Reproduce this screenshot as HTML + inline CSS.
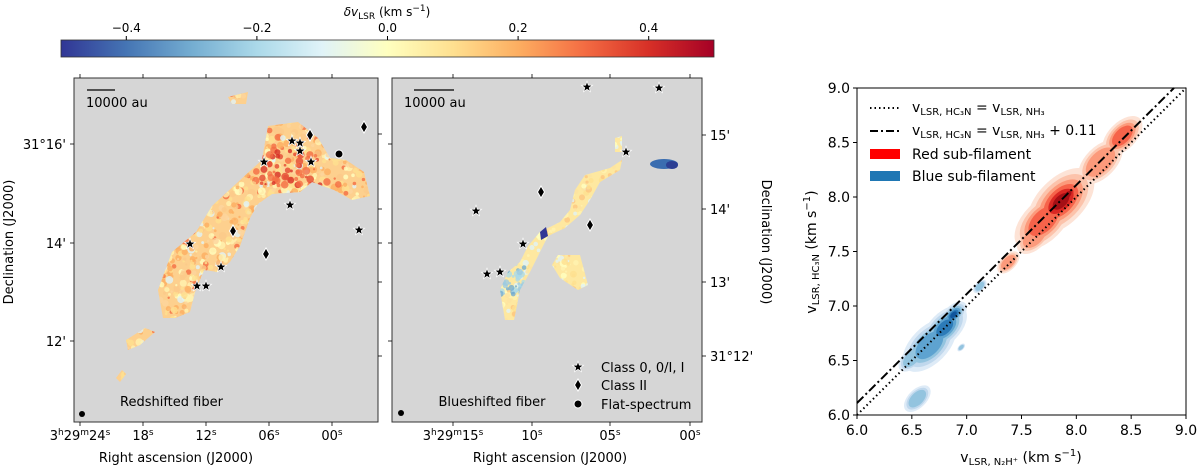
<!DOCTYPE html>
<html><head><meta charset="utf-8">
<style>
body{margin:0;background:#fff;font-family:"DejaVu Sans","Liberation Sans",sans-serif;}
svg{display:block}
text{font-family:"DejaVu Sans","Liberation Sans",sans-serif;fill:#000}
</style></head><body>
<svg id="fig" width="1200" height="467" viewBox="0 0 1200 467" xmlns="http://www.w3.org/2000/svg">
<defs>
<linearGradient id="cmap" x1="0" x2="1" y1="0" y2="0">
<stop offset="0" stop-color="#313695"/><stop offset="0.1" stop-color="#4575b4"/><stop offset="0.2" stop-color="#74add1"/><stop offset="0.3" stop-color="#abd9e9"/><stop offset="0.4" stop-color="#e0f3f8"/><stop offset="0.5" stop-color="#ffffbf"/><stop offset="0.6" stop-color="#fee090"/><stop offset="0.7" stop-color="#fdae61"/><stop offset="0.8" stop-color="#f46d43"/><stop offset="0.9" stop-color="#d73027"/><stop offset="1" stop-color="#a50026"/>
</linearGradient>
<clipPath id="clipL"><polygon points="163,318 158,290 172,252 196,232 212,206 238,182 262,160 268,126 298,122 318,138 330,158 346,160 364,172 370,196 352,200 334,190 312,182 300,192 272,194 258,204 250,218 240,246 230,262 218,272 204,270 195,292 190,312 175,318"/>
<polygon points="116,378 122,370 126,374 120,382"/><polygon points="126,340 145,328 155,332 140,345 128,350"/><polygon points="228,97 248,92 246,104 232,104"/></clipPath>
<clipPath id="clipM"><polygon points="505,320 500,290 508,272 520,262 528,246 540,232 560,222 570,210 575,190 585,175 610,168 622,160 620,170 600,182 590,200 580,215 565,228 548,236 538,256 530,272 520,290 514,320"/>
<polygon points="558,255 580,255 588,285 578,290 560,278 552,265"/><polygon points="615,138 622,136 622,152 615,152"/></clipPath>
</defs>

<g>
<rect x="61" y="40" width="653" height="17" fill="url(#cmap)" stroke="#333" stroke-width="0.8"/>
<text x="387" y="16" text-anchor="middle" font-size="12"><tspan font-style="italic">δv</tspan><tspan font-size="9" dy="3">LSR</tspan><tspan dy="-3"> (km s</tspan><tspan font-size="9" dy="-5">−1</tspan><tspan dy="5">)</tspan></text>
<g id="cbticks" font-size="12"></g>
</g>

<g>
<rect x="74" y="78" width="304" height="344" fill="#d6d6d6" stroke="#333" stroke-width="1"/>
<g id="blobL" clip-path="url(#clipL)"></g>
<line x1="87" y1="90" x2="115" y2="90" stroke="#000" stroke-width="1.2"/>
<text x="86" y="107" font-size="13">10000 au</text>
<text x="120" y="406" font-size="13">Redshifted fiber</text>
<circle cx="82" cy="414" r="3" fill="#000"/>
<g id="ticksL" font-size="13"></g>
<text x="176" y="462" text-anchor="middle" font-size="13">Right ascension (J2000)</text>
<text transform="translate(13,242) rotate(-90)" text-anchor="middle" font-size="13">Declination (J2000)</text>
<g id="markL"></g>
</g>

<g>
<rect x="392" y="78" width="310" height="344" fill="#d6d6d6" stroke="#333" stroke-width="1"/>
<g id="blobM" clip-path="url(#clipM)"></g>
<ellipse cx="664" cy="164" rx="14" ry="5" fill="#3a6db0"/><ellipse cx="672" cy="165" rx="6" ry="4" fill="#2c3f93"/>
<polygon points="540,232 546,227 548,236 541,240" fill="#313695"/>
<line x1="414" y1="90" x2="454" y2="90" stroke="#000" stroke-width="1.2"/>
<text x="404" y="107" font-size="13">10000 au</text>
<text x="492" y="406" text-anchor="middle" font-size="13">Blueshifted fiber</text>
<circle cx="401" cy="413" r="3" fill="#000"/>
<g id="ticksM" font-size="13"></g>
<text x="550" y="462" text-anchor="middle" font-size="13">Right ascension (J2000)</text>
<text transform="translate(762,242) rotate(90)" text-anchor="middle" font-size="13">Declination (J2000)</text>
<g id="markM"></g>
<g font-size="13">
<text x="601" y="372">Class 0, 0/I, I</text>
<text x="601" y="390">Class II</text>
<text x="601" y="409">Flat-spectrum</text>
</g>
</g>

<g>
<rect x="857" y="88" width="329" height="327" fill="#fff"/>
<g id="kde"></g>
<g id="lines"></g>
<rect x="857" y="88" width="329" height="327" fill="none" stroke="#000" stroke-width="1"/>
<g id="axesR" font-size="14"></g>
<text x="1021" y="462" text-anchor="middle" font-size="14">v<tspan font-size="10" dy="3">LSR, N₂H⁺</tspan><tspan dy="-3">  (km s</tspan><tspan font-size="10" dy="-6">−1</tspan><tspan dy="6">)</tspan></text>
<text transform="translate(816,252) rotate(-90)" text-anchor="middle" font-size="14">v<tspan font-size="10" dy="3">LSR, HC₃N</tspan><tspan dy="-3"> (km s</tspan><tspan font-size="10" dy="-6">−1</tspan><tspan dy="6">)</tspan></text>
<g font-size="14">
<line x1="870" y1="108" x2="900" y2="108" stroke="#000" stroke-width="2" stroke-dasharray="1.5,3"/>
<text x="912" y="112">v<tspan font-size="10" dy="3">LSR, HC₃N</tspan><tspan dy="-3"> = v</tspan><tspan font-size="10" dy="3">LSR, NH₃</tspan></text>
<line x1="870" y1="131" x2="900" y2="131" stroke="#000" stroke-width="2" stroke-dasharray="8,3,2,3"/>
<text x="912" y="135">v<tspan font-size="10" dy="3">LSR, HC₃N</tspan><tspan dy="-3"> = v</tspan><tspan font-size="10" dy="3">LSR, NH₃</tspan><tspan dy="-3"> + 0.11</tspan></text>
<rect x="870" y="149" width="30" height="10" fill="#ff0000"/>
<text x="912" y="159">Red sub-filament</text>
<rect x="870" y="171" width="30" height="10" fill="#1f77b4"/>
<text x="912" y="181">Blue sub-filament</text>
</g>
</g>
</svg>
<script>
// chart data
const axisTicks=[6.0,6.5,7.0,7.5,8.0,8.5,9.0];
const lineOffsets=[0,0.11];
const redX=[7.70,7.86,7.92,8.22,8.42,7.38,7.62];
const redY=[7.78,7.96,8.02,8.32,8.56,7.40,7.64];
const redSize=[0.26,0.30,0.14,0.20,0.18,0.10,0.16];
const redLevel=[0.5,1,1,0.45,0.5,0.3,0.4];
const blueX=[6.66,6.80,6.88,6.55,6.95,7.12,6.50];
const blueY=[6.64,6.80,6.92,6.15,6.62,7.18,6.52];
const blueSize=[0.24,0.20,0.12,0.12,0.035,0.06,0.12];
const blueLevel=[0.6,0.8,1,0.3,0.4,0.3,0.4];
const cbTicks=[-0.4,-0.2,0.0,0.2,0.4];

const NS='http://www.w3.org/2000/svg';
function mk(tag,attrs,parent){const e=document.createElementNS(NS,tag);for(const k in attrs)e.setAttribute(k,attrs[k]);parent.appendChild(e);return e;}
const X=v=>857+(v-6)*(329/3);
const Y=v=>415-(v-6)*(327/3);

const cbG=document.getElementById('cbticks');
const cbX=v=>387.5+v*(653/1.0);
cbTicks.forEach(t=>{
  const x=cbX(t);
  const l=mk('line',{x1:x,y1:36,x2:x,y2:40,stroke:'#000'},cbG);
  
  const tx=mk('text',{x:x,y:32,'text-anchor':'middle'},cbG);
  
  tx.textContent=(t<0?'−':'')+Math.abs(t).toFixed(1);
});

const kde=document.getElementById('kde');
function blobs(xs,ys,ss,lvls,cols,name){
  const levels=[1,0.82,0.66,0.52,0.38,0.25];
  levels.forEach((lv,li)=>{
    xs.forEach((x,i)=>{
      const maxLi=Math.round(lvls[i]*(levels.length-1));
      if(li>maxLi) return;
      const s=ss[i]*lv;
      const e=mk('ellipse',{cx:X(x),cy:Y(ys[i]),rx:s*329/3*1.25,ry:s*329/3*0.7,fill:cols[li],transform:`rotate(-45 ${X(x)} ${Y(ys[i])})`},kde);
      
    });
  });
}
blobs(redX,redY,redSize,redLevel,['#fde3d6','#fcc3ab','#fc9a7b','#f6634a','#d92723','#a50f15'],'red-kde-contour');
blobs(blueX,blueY,blueSize,blueLevel,['#deebf7','#c0d8ed','#93c4df','#5ea3d0','#2c7bb8','#0f559c'],'blue-kde-contour');

const lg=document.getElementById('lines');
lineOffsets.forEach((o,i)=>{
  const x0=6,x1=9;
  const p=mk('line',{x1:X(x0),y1:Y(x0+o),x2:X(Math.min(x1,9-o)),y2:Y(Math.min(x1,9-o)+o),stroke:'#000','stroke-width':2,'stroke-dasharray':i===0?'1.5,3':'9,3,2,3'},lg);
  
  
});

const ax=document.getElementById('axesR');
axisTicks.forEach(t=>{
  let l=mk('line',{x1:X(t),y1:415,x2:X(t),y2:419,stroke:'#000'},ax);
  
  let tx=mk('text',{x:X(t),y:435,'text-anchor':'middle'},ax);
  
  tx.textContent=t.toFixed(1);
  l=mk('line',{x1:853,y1:Y(t),x2:857,y2:Y(t),stroke:'#000'},ax);
  
  tx=mk('text',{x:850,y:Y(t)+5,'text-anchor':'end'},ax);
  
  tx.textContent=t.toFixed(1);
});

let seed=7;function rnd(){seed=(seed*16807)%2147483647;return seed/2147483647;}
const warm=['#ffffbf','#fee090','#fee090','#fdd49e','#fdae61','#fdae61','#f46d43','#fff2b0','#e0f3f8','#fbc98a'];
function texture(g,x0,y0,x1,y1,n,pal,rmax){
  for(let i=0;i<n;i++){
    mk('circle',{cx:x0+rnd()*(x1-x0),cy:y0+rnd()*(y1-y0),r:1+rnd()*rmax,fill:pal[Math.floor(rnd()*pal.length)],opacity:0.8},g);
  }
}
const bL=document.getElementById('blobL');
mk('rect',{x:100,y:80,width:280,height:320,fill:'#fdd08e'},bL);
texture(bL,100,80,380,400,3500,warm,3);
texture(bL,255,150,320,185,50,['#d73027','#f46d43','#e34a33'],3);
const bM=document.getElementById('blobM');
mk('rect',{x:490,y:130,width:140,height:200,fill:'#fee8a0'},bM);
texture(bM,490,130,630,330,900,['#ffffbf','#fee090','#fde2a0','#e0f3f8','#fff2b0','#fdc681'],2.5);
texture(bM,498,262,525,295,60,['#74add1','#abd9e9','#9ecae1'],2.5);

function star(g,x,y){const pts=[];for(let k=0;k<10;k++){const r=k%2?1.9:4.6;const a=-Math.PI/2+k*Math.PI/5;pts.push((x+r*Math.cos(a)).toFixed(1)+','+(y+r*Math.sin(a)).toFixed(1));}
  const p=mk('polygon',{points:pts.join(' '),fill:'#000',stroke:'#fff','stroke-width':1.5,'paint-order':'stroke'},g);
  }
function diamond(g,x,y){const p=mk('polygon',{points:`${x},${y-6} ${x+3.5},${y} ${x},${y+6} ${x-3.5},${y}`,fill:'#000',stroke:'#fff','stroke-width':1},g);
  }
function dot(g,x,y){const p=mk('circle',{cx:x,cy:y,r:4,fill:'#000',stroke:'#fff','stroke-width':1},g);
  }
const mL=document.getElementById('markL');
[[190,244],[221,267],[197,286],[206,286],[264,162],[292,141],[300,143],[300,151],[311,162],[290,205],[359,230]].forEach(p=>star(mL,...p));
[[310,135],[364,127],[233,231],[266,254]].forEach(p=>diamond(mL,...p));
dot(mL,339,154);
const mM=document.getElementById('markM');
[[587,87],[659,88],[626,152],[476,211],[523,244],[487,274],[500,272],[578,367]].forEach(p=>star(mM,...p));
[[541,192],[590,225],[578,385]].forEach(p=>diamond(mM,...p));
dot(mM,578,404);

const tL=document.getElementById('ticksL');
function tick(g,x1,y1,x2,y2){mk('line',{x1,y1,x2,y2,stroke:'#000','stroke-width':0.8},g);}
function lab(g,x,y,txt,anchor){const t=mk('text',{x,y,'text-anchor':anchor||'middle'},g);t.innerHTML=txt;}
const sup='<tspan font-size="9" dy="-5">';
[[80,'3'+sup+'h</tspan><tspan dy="5">29</tspan>'+sup+'m</tspan><tspan dy="5">24</tspan>'+sup+'s</tspan>'],[143,'18'+sup+'s</tspan>'],[206,'12'+sup+'s</tspan>'],[269,'06'+sup+'s</tspan>'],[332,'00'+sup+'s</tspan>']].forEach(([x,s])=>{tick(tL,x,422,x,426);tick(tL,x,78,x,74);lab(tL,x,440,s);});
[[144,"31°16'"],[243,"14'"],[341,"12'"]].forEach(([y,s])=>{tick(tL,74,y,70,y);lab(tL,66,y+5,s,'end');});
[134,209,243,282,356].forEach(y=>tick(tL,378,y,382,y));
const tM=document.getElementById('ticksM');
[[453,'3'+sup+'h</tspan><tspan dy="5">29</tspan>'+sup+'m</tspan><tspan dy="5">15</tspan>'+sup+'s</tspan>'],[532,'10'+sup+'s</tspan>'],[610,'05'+sup+'s</tspan>'],[690,'00'+sup+'s</tspan>']].forEach(([x,s])=>{tick(tM,x,422,x,426);tick(tM,x,78,x,74);lab(tM,x,440,s);});
[[135,"15'"],[209,"14'"],[282,"13'"],[356,"31°12'"]].forEach(([y,s])=>{tick(tM,702,y,706,y);lab(tM,710,y+5,s,'start');});
[144,243,341].forEach(y=>tick(tM,392,y,388,y));
</script>
</body></html>
